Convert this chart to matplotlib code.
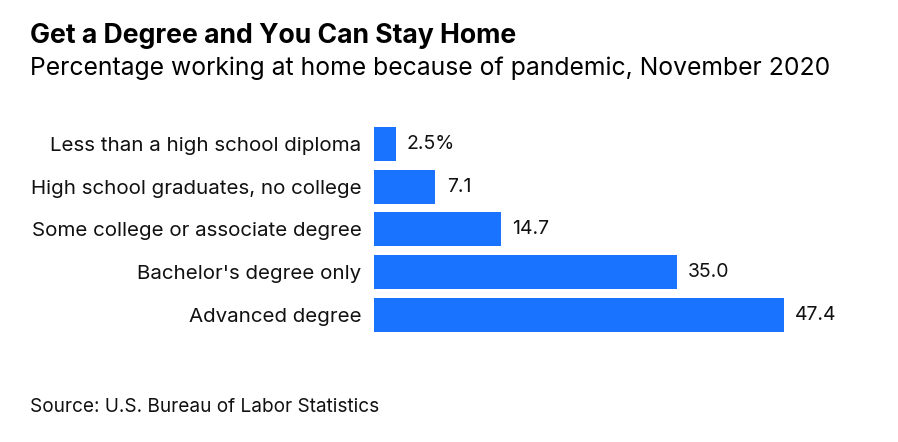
import matplotlib
matplotlib.use('Agg')
import matplotlib.pyplot as plt

categories = ['Less than a high school diploma',
              'High school graduates, no college',
              'Some college or associate degree',
              "Bachelor's degree only",
              'Advanced degree']
values = [2.5, 7.1, 14.7, 35.0, 47.4]
valueLabels = ['2.5%', '7.1', '14.7', '35.0', '47.4']

plt.rcParams['font.family'] = ['Inter', 'DejaVu Sans']

W, H = 898, 442
fig = plt.figure(figsize=(W / 100, H / 100), dpi=100)

# axes placed in pixel terms: bars start at x=374, rows span y=122..336
left, top, bottom = 374, 122.6, 336
ax = fig.add_axes([left / W, 1 - bottom / H, (W - left) / W, (bottom - top) / H])

barColor = '#1a73ff'
ypos = list(range(len(categories)))
ax.barh(ypos, values, height=0.8, color=barColor)
ax.set_ylim(len(categories) - 0.5, -0.5)
ax.set_xlim(0, 47.4 * (W - left) / (784 - left))

for y, v, lab in zip(ypos, values, valueLabels):
    ax.text(v + 1.3, y, lab, va='center', ha='left', fontsize=14, color='#111111')

ax.set_yticks(ypos)
ax.set_yticklabels(categories, fontsize=14.8, color='#111111')
ax.tick_params(axis='y', length=0, pad=9)
ax.set_xticks([])
for s in ax.spines.values():
    s.set_visible(False)

fig.text(30 / W, 1 - 36 / H, 'Get a Degree and You Can Stay Home', fontsize=19.2,
         fontweight='bold', va='center', ha='left', color='#000000')
fig.text(30 / W, 1 - 68 / H, 'Percentage working at home because of pandemic, November 2020',
         fontsize=17.8, va='center', ha='left', color='#000000')
fig.text(30 / W, 1 - 407 / H, 'Source: U.S. Bureau of Labor Statistics', fontsize=13.7,
         va='center', ha='left', color='#111111')

fig.savefig('out.png', dpi=100, facecolor='white')
